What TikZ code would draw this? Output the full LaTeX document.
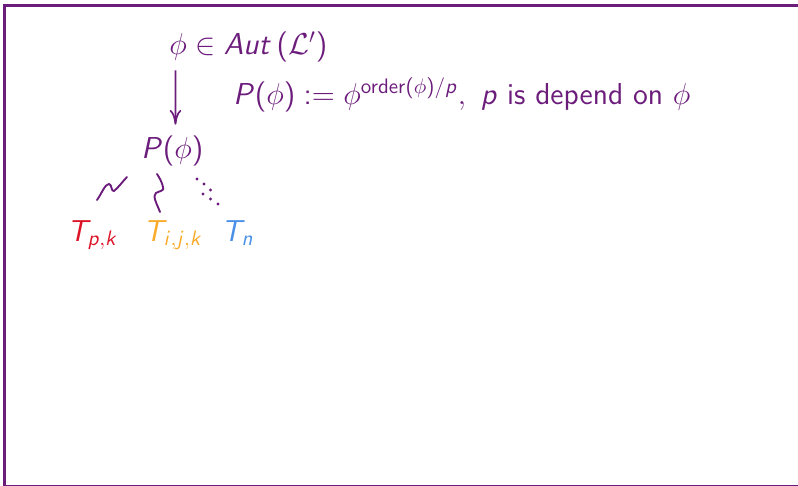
\documentclass[tikz,border=0pt]{standalone}
\usepackage{amsmath}
\usepackage{amssymb}
\usepackage{tikz}
\usepackage{xcolor}
\usetikzlibrary{arrows.meta, calc}
\definecolor{deeppurple}{HTML}{6C1D7C}
\definecolor{tred}{HTML}{DC1428}
\definecolor{torange}{HTML}{F9AA28}
\definecolor{tblue}{HTML}{4A8FE7}
\DeclareSymbolFont{operators}{OT1}{cmss}{m}{n}
\SetSymbolFont{operators}{bold}{OT1}{cmss}{bx}{n}
\DeclareMathAlphabet{\mathsl}{OT1}{cmss}{m}{sl}

\begin{document}
\begin{tikzpicture}[x=0.476pt, y=-0.476pt,
  lbl/.style={inner sep=0pt, anchor=base west, text=deeppurple, font=\fontsize{14.4}{17}\selectfont\sffamily},
  arr/.style={-{Computer Modern Rightarrow[length=7pt, width=5.5pt]}, line width=0.8pt, deeppurple},
  wig/.style={line width=0.9pt, line cap=round, deeppurple},
  frame/.style={line width=1pt, deeppurple}
]
\useasboundingbox (0,0) rectangle (798,485);
\draw[frame] (4.5,5.5) rectangle (812,486.3);

\node[lbl] (aut) at (169,54.5) {$\phi\in\mathsl{Aut}\,(\mathcal{L}')$};
\node[lbl] (def) at (233,104) {$\mathsl{P}(\phi) := \phi^{\mathrm{order}(\phi)/\mathsl{p}},\ \mathsl{p}$ is depend on $\phi$};
\node[lbl] (P) at (141,158.5) {$\mathsl{P}(\phi)$};
\node[lbl, text=tred] (tpk) at (67,241) {$\mathsl{T}_{\mathsl{p},\mathsl{k}}$};
\node[lbl, text=torange] (tijk) at (143,241) {$\mathsl{T}_{\mathsl{i},\mathsl{j},\mathsl{k}}$};
\node[lbl, text=tblue] (tn) at (221,241) {$\mathsl{T}_{\mathsl{n}}$};

\draw[arr] ([xshift=3.1pt, yshift=-3.8pt]aut.south west) -- ([xshift=16.4pt, yshift=5.1pt]P.north west);

% squiggles under P
\coordinate (w1a) at (97,200);
\coordinate (w1b) at (127,177);
\draw[wig] (w1a) .. controls (102,193) and (105,184) .. (109,184)
  .. controls (112,184) and (111,192) .. (114,191)
  .. controls (118,188) and (123,181) .. (w1b);
\coordinate (w2a) at (160,212);
\coordinate (w2b) at (157,174);
\draw[wig] (w2a) .. controls (157,204) and (152,196) .. (156,193)
  .. controls (159,191) and (165,191) .. (163,187)
  .. controls (162,182) and (159,177) .. (w2b);
\foreach \d in {(197,179),(204,184),(210.5,190),(203,194),(210.5,199),(218,204)}
  \fill[deeppurple] \d circle[radius=0.75pt];
\end{tikzpicture}
\end{document}
